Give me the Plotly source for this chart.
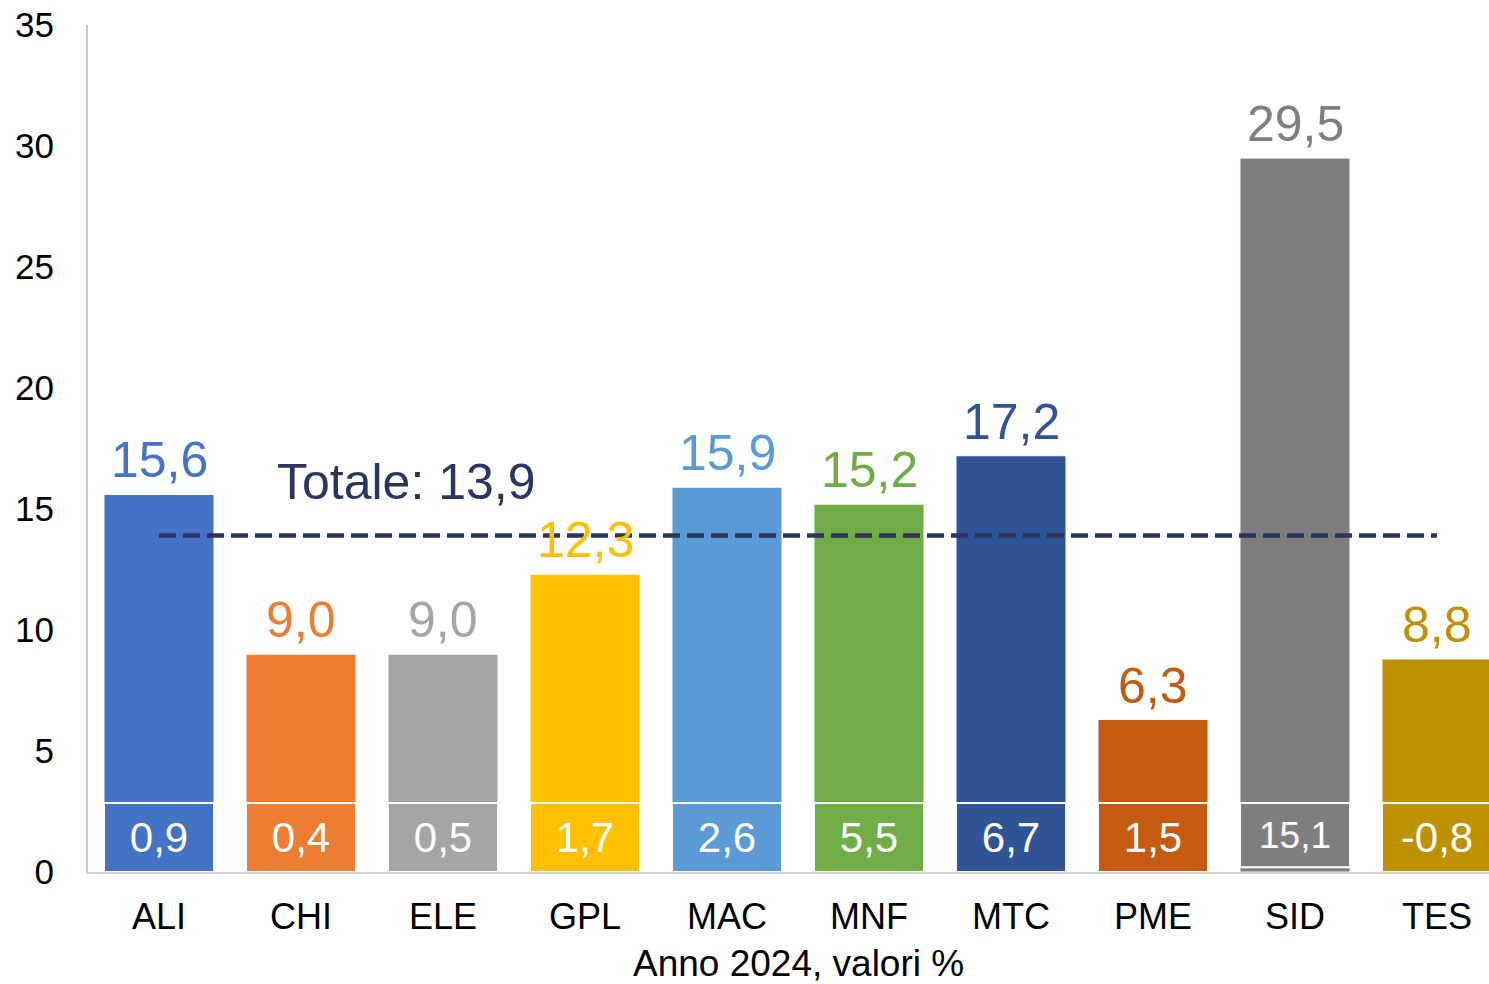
import plotly.graph_objects as go

# ---- data ----
categories = ["ALI", "CHI", "ELE", "GPL", "MAC", "MNF", "MTC", "PME", "SID", "TES"]
values_2024 = [15.6, 9.0, 9.0, 12.3, 15.9, 15.2, 17.2, 6.3, 29.5, 8.8]
inner_values = [0.9, 0.4, 0.5, 1.7, 2.6, 5.5, 6.7, 1.5, 15.1, -0.8]
inner_base = [0, 0, 0, 0, 0, 0, 0, 0, 0.2, 0]
totale = 13.9
y_ticks = [0, 5, 10, 15, 20, 25, 30, 35]
x_title = "Anno 2024, valori %"

# ---- style ----
bar_colors = ["#4472C4", "#ED7D31", "#A5A5A5", "#FFC000", "#5B9BD5",
              "#70AD47", "#2F5597", "#C55A11", "#7F7F7F", "#BF9000"]
label_colors = ["#4472C4", "#ED7D31", "#A5A5A5", "#FFC000", "#5B9BD5",
                "#70AD47", "#2F5597", "#C55A11", "#7F7F7F", "#BF9000"]
inner_font_sizes = [42, 42, 42, 42, 42, 42, 42, 42, 37, 42]
INNER_TOP = 2.85
NAVY = "#2B3560"
FONT = "Liberation Sans, Arial, sans-serif"


def fmt(v):
    return f"{v:.1f}".replace(".", ",")


fig = go.Figure()

fig.add_trace(go.Bar(
    x=categories, y=values_2024,
    marker=dict(color=bar_colors, line=dict(color="white", width=1)),
    hoverinfo="skip", showlegend=False,
))

fig.add_trace(go.Bar(
    x=categories, y=[INNER_TOP - b for b in inner_base], base=inner_base,
    marker=dict(color=bar_colors, line=dict(color="white", width=2)),
    text=[fmt(v) for v in inner_values],
    textposition="inside", insidetextanchor="middle",
    textfont=dict(color="white", size=inner_font_sizes, family=FONT),
    constraintext="none",
    hoverinfo="skip", showlegend=False,
))

fig.add_trace(go.Scatter(
    x=categories, y=[totale] * len(categories),
    mode="lines",
    line=dict(color=NAVY, width=4.5, dash="17px,7px"),
    hoverinfo="skip", showlegend=False,
))

for cat, val, col in zip(categories, values_2024, label_colors):
    fig.add_annotation(
        x=cat, y=val, xref="x", yref="y",
        text=fmt(val), showarrow=False,
        yanchor="bottom", yshift=4,
        font=dict(size=50, color=col, family=FONT),
    )

fig.add_annotation(
    x=1.74, y=16.1, xref="x", yref="y",
    text=f"Totale: {fmt(totale)}", showarrow=False,
    font=dict(size=50, color=NAVY, family=FONT),
)

# axis title centred under the category block
fig.add_annotation(
    x=(len(categories) - 1) / 2, y=0, xref="x", yref="paper",
    text=x_title, showarrow=False,
    yanchor="middle", yshift=-91, borderpad=0,
    font=dict(size=37, color="black", family=FONT),
)

fig.update_layout(
    width=1489, height=984,
    margin=dict(l=88, r=0, t=25, b=112),
    paper_bgcolor="white", plot_bgcolor="white",
    barmode="overlay", bargap=0.225,
    font=dict(family=FONT, color="black"),
    xaxis=dict(
        range=[-0.5, -0.5 + 1401 / 142],
        showline=True, linecolor="#D0D0D0", linewidth=2,
        tickfont=dict(size=36, color="black"),
        ticks="", ticklabelstandoff=12,
    ),
    yaxis=dict(
        range=[0, 35], tickvals=y_ticks, ticktext=[str(t) for t in y_ticks],
        showgrid=False, zeroline=False,
        showline=True, linecolor="#C8C8C8", linewidth=2,
        tickfont=dict(size=35, color="black"),
        ticks="", ticklabelstandoff=25, ticklabeloverflow="allow",
    ),
)

fig.write_html(
    "out.html",
    config={"displayModeBar": False},
    post_script="document.body.style.margin='0px';document.body.style.overflow='hidden';",
)
